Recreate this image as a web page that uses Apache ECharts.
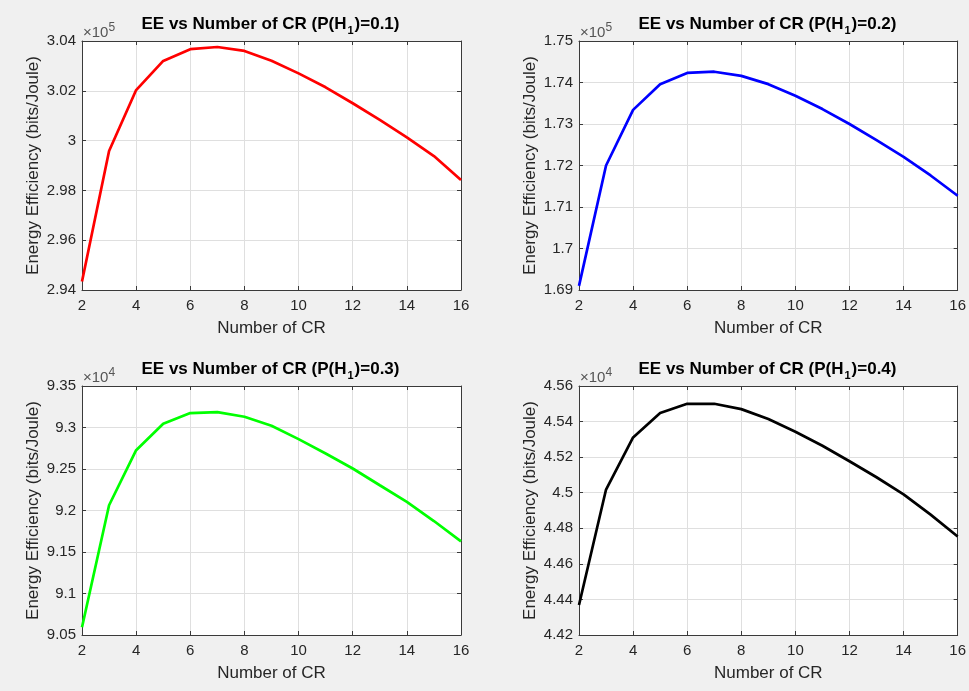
<!DOCTYPE html>
<html><head><meta charset="utf-8">
<script src="https://cdn.jsdelivr.net/npm/echarts@6/dist/echarts.min.js"></script>
<style>html,body{margin:0;padding:0;background:#f0f0f0}#c{width:969px;height:691px}</style>
</head><body><div id="c"></div>
<script>
// ---- data ----
const crCounts = [2,3,4,5,6,7,8,9,10,11,12,13,14,15,16];
const ee01 = [294340, 299580, 302030, 303200, 303670, 303760, 303600, 303210, 302700, 302140, 301500, 300830, 300130, 299380, 298420];
const ee02 = [169100, 172000, 173340, 173960, 174230, 174260, 174160, 173960, 173680, 173360, 173000, 172610, 172210, 171760, 171270];
const ee03 = [90593, 92063, 92727, 93045, 93174, 93186, 93130, 93021, 92860, 92687, 92506, 92304, 92103, 91873, 91628];
const ee04 = [44369, 45018, 45311, 45448, 45500, 45500, 45470, 45414, 45343, 45264, 45177, 45087, 44991, 44877, 44754];
const probs = ['0.1', '0.2', '0.3', '0.4'];
const xTicks = [2,4,6,8,10,12,14,16];
const yTicks01 = [294000, 296000, 298000, 300000, 302000, 304000];
const yTicks02 = [169000, 170000, 171000, 172000, 173000, 174000, 175000];
const yTicks03 = [90500, 91000, 91500, 92000, 92500, 93000, 93500];
const yTicks04 = [44200, 44400, 44600, 44800, 45000, 45200, 45400, 45600];
const exponents = [5, 5, 4, 4];
const xName = 'Number of CR';
const yName = 'Energy Efficiency (bits/Joule)';

// ---- styling / layout ----
const FONT = '"Liberation Sans", Arial, Helvetica, sans-serif';
const AX = '#3a3a3a';
const TXT = '#262626';
const colors = ['#ff0000', '#0000ff', '#00ff00', '#000000'];
const series_ = [ee01, ee02, ee03, ee04];
const yTicks = [yTicks01, yTicks02, yTicks03, yTicks04];
const lefts = [82, 579, 82, 579];
const tops = [41, 41, 386, 386];
const W = 379, H = 249;

const grid = [], xAxis = [], yAxis = [], series = [], title = [], graphic = [];
for (let i = 0; i < 4; i++) {
  grid.push({left: lefts[i], top: tops[i], width: W, height: H, show: true, backgroundColor: '#ffffff', borderWidth: 0});
  const yt = yTicks[i];
  const exp = exponents[i];
  const xmin = xTicks[0], xmax = xTicks[xTicks.length - 1], xint = xTicks[1] - xTicks[0];
  const ymin = yt[0], ymax = yt[yt.length - 1], yint = yt[1] - yt[0];
  const common = {axisLine: {show: true, onZero: false, lineStyle: {color: AX, width: 1}},
                  axisTick: {show: true, inside: true, length: 4, lineStyle: {color: AX}}};
  xAxis.push(Object.assign({type: 'value', gridIndex: i, min: xmin, max: xmax, interval: xint, position: 'bottom',
    name: xName, nameLocation: 'middle', nameGap: 30,
    nameTextStyle: {fontFamily: FONT, fontSize: 17, color: TXT},
    axisLabel: {fontFamily: FONT, fontSize: 15, color: TXT, margin: 8},
    splitLine: {show: true, lineStyle: {color: '#dfdfdf', width: 1}}}, common));
  xAxis.push(Object.assign({type: 'value', gridIndex: i, min: xmin, max: xmax, interval: xint, position: 'top',
    axisLabel: {show: false}, splitLine: {show: false}}, common));
  yAxis.push(Object.assign({type: 'value', gridIndex: i, min: ymin, max: ymax, interval: yint, position: 'left',
    name: yName, nameLocation: 'middle', nameGap: 40, nameRotate: 90,
    nameTextStyle: {fontFamily: FONT, fontSize: 17, color: TXT},
    axisLabel: {fontFamily: FONT, fontSize: 15, color: TXT, margin: 6,
      formatter: v => String(parseFloat((v / Math.pow(10, exp)).toFixed(4)))},
    splitLine: {show: true, lineStyle: {color: '#dfdfdf', width: 1}}}, common));
  yAxis.push(Object.assign({type: 'value', gridIndex: i, min: ymin, max: ymax, interval: yint, position: 'right',
    axisLabel: {show: false}, splitLine: {show: false}}, common));
  series.push({type: 'line', xAxisIndex: 2 * i, yAxisIndex: 2 * i, symbol: 'none', smooth: false,
    lineStyle: {color: colors[i], width: 2.7}, itemStyle: {color: colors[i]},
    data: crCounts.map((x, k) => [x, series_[i][k]]), z: 5});
  title.push({text: 'EE vs Number of CR (P(H{sub|1})=' + probs[i] + ')',
    left: lefts[i] + W / 2 - 6, textAlign: 'center', top: tops[i] - 34,
    textStyle: {fontFamily: FONT, fontSize: 17, fontWeight: 'bold', color: '#000000',
      rich: {sub: {fontFamily: FONT, fontSize: 11, fontWeight: 'bold', color: '#000000', padding: [13, 1, 0, 1]}}}});
  graphic.push({type: 'text', x: lefts[i] + 1, y: tops[i] + 2,
    style: {text: '×10{sup|' + exp + '}', fontFamily: FONT, fontSize: 15, fill: '#555555', verticalAlign: 'bottom',
      rich: {sup: {fontFamily: FONT, fontSize: 12, fill: '#555555', padding: [0, 0, 9, 0]}}}});
}

const chart = echarts.init(document.getElementById('c'), null, {renderer: 'canvas'});
chart.setOption({backgroundColor: '#f0f0f0', animation: false, title, grid, xAxis, yAxis, series, graphic});
</script>
</body></html>
